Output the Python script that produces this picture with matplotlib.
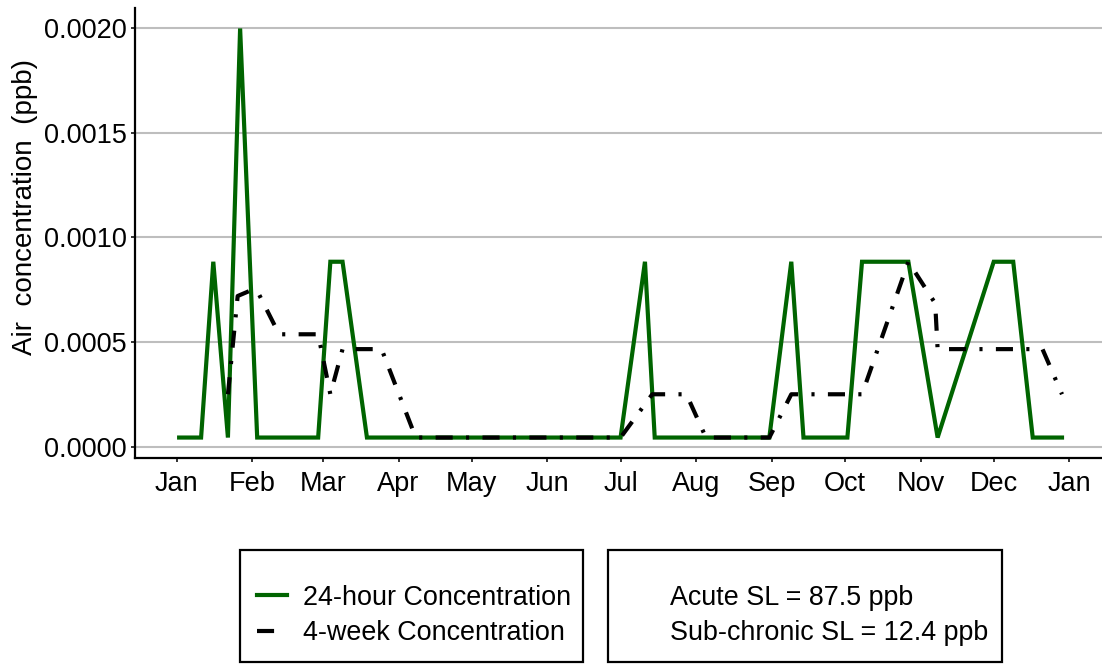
import numpy as np
import pandas as pd
import matplotlib
matplotlib.use("Agg")
import matplotlib.pyplot as plt
import matplotlib.dates as mdates
from matplotlib.lines import Line2D
from matplotlib.patches import Rectangle

plt.rcParams['font.family'] = ['Liberation Sans', 'DejaVu Sans']

# -------------------------------
# Data
# -------------------------------
day_dates = ["2020-01-02", "2020-01-11", "2020-01-16", "2020-01-22", "2020-01-27",
             "2020-02-03", "2020-02-28", "2020-03-04", "2020-03-09", "2020-03-19",
             "2020-07-01", "2020-07-11", "2020-07-15", "2020-08-31", "2020-09-09",
             "2020-09-14", "2020-10-02", "2020-10-08", "2020-10-27", "2020-11-08",
             "2020-12-01", "2020-12-09", "2020-12-17", "2020-12-29"]
day_conc = [0.000043, 0.000043, 0.000884, 0.000043, 0.002,
            0.000043, 0.000043, 0.000884, 0.000884, 0.000043,
            0.000043, 0.000884, 0.000043, 0.000043, 0.000884,
            0.000043, 0.000043, 0.000884, 0.000884, 0.000043,
            0.000884, 0.000884, 0.000043, 0.000043]

week_dates = ["2020-01-22", "2020-01-26", "2020-01-31", "2020-02-03", "2020-02-12",
              "2020-02-28", "2020-03-04", "2020-03-09", "2020-03-25", "2020-04-08",
              "2020-07-01", "2020-07-14", "2020-07-28", "2020-08-05", "2020-08-31",
              "2020-09-09", "2020-10-08", "2020-10-27", "2020-11-07", "2020-11-08",
              "2020-12-21", "2020-12-29"]
week_conc = [0.00025, 0.00072, 0.000745, 0.000745, 0.000537,
             0.000537, 0.00025, 0.000466, 0.000466, 0.000043,
             0.000043, 0.00025, 0.00025, 0.000043, 0.000043,
             0.00025, 0.00025, 0.000884, 0.000685, 0.000466,
             0.000466, 0.00025]

series_labels = ["24-hour Concentration", "4-week Concentration"]
sl_labels = ["Acute SL = 87.5 ppb", "Sub-chronic SL = 12.4 ppb"]
y_ticks = [0.0, 0.0005, 0.0010, 0.0015, 0.0020]

day_dates = pd.to_datetime(day_dates)
week_dates = pd.to_datetime(week_dates)

# -------------------------------
# Figure / axes
# -------------------------------
W, H = 1102, 664
fig = plt.figure(figsize=(W / 100, H / 100), dpi=100)
ax = fig.add_axes([135 / W, 1 - 458 / H, (W - 135) / W, (458 - 8) / H])

lw = 3.0
l1, = ax.plot(day_dates, day_conc, color='#006400', lw=lw,
              solid_joinstyle='miter', label=series_labels[0])
l2, = ax.plot(week_dates, week_conc, color='black', lw=lw,
              linestyle=(0, (4.1, 3.2, 0.75, 3.2)), dash_capstyle='butt',
              label=series_labels[1])

start = pd.Timestamp("2020-01-01")
ax.set_xlim(start - pd.Timedelta(days=17.1), start + pd.Timedelta(days=379.4))
ymin, ymax = min(day_conc), max(day_conc)
pad = (ymax - ymin) * 0.05
ax.set_ylim(ymin - pad, ymax + pad)

ax.xaxis.set_major_locator(mdates.MonthLocator())
ax.xaxis.set_major_formatter(mdates.DateFormatter('%b'))
ax.set_yticks(y_ticks)
ax.set_yticklabels([f"{v:.4f}" for v in y_ticks])

ax.yaxis.grid(True, color='#bebebe', lw=1.5)
ax.xaxis.grid(False)
ax.set_axisbelow(True)
for s in ['top', 'right']:
    ax.spines[s].set_visible(False)
for s in ['left', 'bottom']:
    ax.spines[s].set_linewidth(1.6)
    ax.spines[s].set_color('black')
ax.tick_params(length=3.2, width=1.4, color='#333333', labelsize=19.5,
               labelcolor='black')
ax.tick_params(axis='y', pad=2.5)
ax.tick_params(axis='x', pad=6)

fig.text(25 / W, 1 - 207 / H, "Air  concentration  (ppb)", rotation=90,
         fontsize=20, ha='center', va='center')

# -------------------------------
# Legends in boxes below the plot
# -------------------------------
fs = 19.4
fs_px = fs * 100 / 72
common = dict(frameon=False, fontsize=fs, handlelength=30 / fs_px,
              handletextpad=16 / fs_px, labelspacing=0.36, borderpad=0,
              borderaxespad=0, loc='center left')
fig.legend(handles=[l1, l2], labels=series_labels,
           bbox_to_anchor=(257 / W, 1 - 615.5 / H), **common)
ghost = [Line2D([], [], color='none') for _ in sl_labels]
fig.legend(handles=ghost, labels=sl_labels,
           bbox_to_anchor=(624 / W, 1 - 615.5 / H), **common)

for x0, x1 in [(240, 583), (608, 1002)]:
    fig.patches.append(Rectangle((x0 / W, 1 - 662 / H), (x1 - x0) / W, (662 - 550) / H,
                                 transform=fig.transFigure, fill=False,
                                 edgecolor='black', lw=1.6))

fig.savefig("out.png", dpi=100)
